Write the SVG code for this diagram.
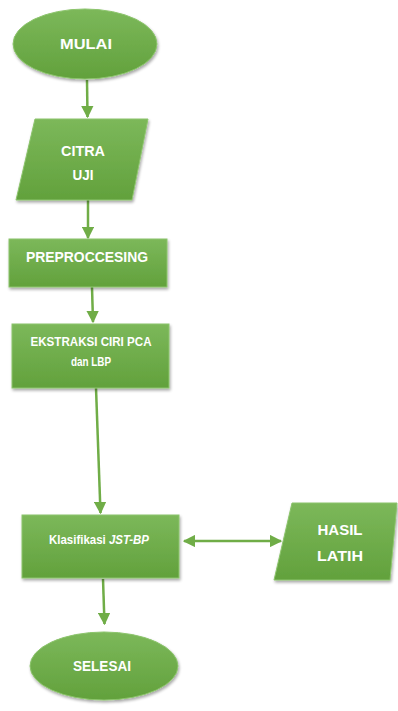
<svg xmlns="http://www.w3.org/2000/svg" width="398" height="711" viewBox="0 0 398 711">
<defs>
<linearGradient id="g" x1="0" y1="0" x2="0" y2="1">
<stop offset="0" stop-color="#7cb85a"/>
<stop offset="1" stop-color="#62a13c"/>
</linearGradient>
<filter id="sh" x="-10%" y="-10%" width="125%" height="130%">
<feGaussianBlur in="SourceAlpha" stdDeviation="1.5"/>
<feOffset dx="1" dy="2" result="b"/>
<feComponentTransfer><feFuncA type="linear" slope="0.35"/></feComponentTransfer>
<feMerge><feMergeNode/><feMergeNode in="SourceGraphic"/></feMerge>
</filter>
<marker id="ah" viewBox="0 0 10 10" refX="9" refY="5" markerWidth="5" markerHeight="5" orient="auto-start-reverse">
<path d="M0,0 L10,5 L0,10 z" fill="#70ad47"/>
</marker>
<style>
.n{fill:url(#g);stroke:#8cc46c;stroke-width:1;filter:url(#sh)}
.t{font-family:"Liberation Sans",Arial,sans-serif;font-weight:bold;fill:#ffffff;text-anchor:middle}
.c{stroke:#70ad47;stroke-width:2.5;fill:none;marker-end:url(#ah)}
</style>
</defs>
<rect width="398" height="711" fill="#ffffff"/>
<g id="connectors">
<line class="c" x1="87" y1="80" x2="87.5" y2="117"/>
<line class="c" x1="88" y1="200" x2="88" y2="238"/>
<line class="c" x1="92" y1="287" x2="93" y2="322"/>
<line class="c" x1="96" y1="388" x2="100.5" y2="513"/>
<line class="c" x1="184" y1="541" x2="281" y2="541" marker-start="url(#ah)"/>
<line class="c" x1="103" y1="579" x2="104.5" y2="624"/>
</g>
<g id="mulai">
<ellipse class="n" cx="85" cy="44" rx="72" ry="35"/>
<text class="t" x="86" y="49" font-size="15" textLength="52" lengthAdjust="spacingAndGlyphs">MULAI</text>
</g>
<g id="citra">
<polygon class="n" points="35,119 148,119 132,200 16,200"/>
<text class="t" x="83" y="156" font-size="14" textLength="44" lengthAdjust="spacingAndGlyphs">CITRA</text>
<text class="t" x="83" y="180" font-size="14" textLength="21" lengthAdjust="spacingAndGlyphs">UJI</text>
</g>
<g id="preprocessing">
<rect class="n" x="9" y="239" width="158" height="48"/>
<text class="t" x="87" y="262" font-size="15" textLength="122" lengthAdjust="spacingAndGlyphs">PREPROCCESING</text>
</g>
<g id="ekstraksi">
<rect class="n" x="12" y="324" width="157" height="64"/>
<text class="t" x="91" y="346" font-size="12" textLength="121" lengthAdjust="spacingAndGlyphs">EKSTRAKSI CIRI PCA</text>
<text class="t" x="91" y="366" font-size="12" textLength="40" lengthAdjust="spacingAndGlyphs">dan LBP</text>
</g>
<g id="klasifikasi">
<rect class="n" x="22" y="515" width="157" height="63"/>
<text class="t" x="99" y="544" font-size="12" textLength="100" lengthAdjust="spacingAndGlyphs">Klasifikasi <tspan font-style="italic">JST-BP</tspan></text>
</g>
<g id="hasil">
<polygon class="n" points="292,503 397,503 390,580 274,580"/>
<text class="t" x="340" y="535" font-size="15" textLength="45" lengthAdjust="spacingAndGlyphs">HASIL</text>
<text class="t" x="340" y="561" font-size="15" textLength="46" lengthAdjust="spacingAndGlyphs">LATIH</text>
</g>
<g id="selesai">
<ellipse class="n" cx="104" cy="666" rx="74" ry="34"/>
<text class="t" x="102" y="671" font-size="15" textLength="58" lengthAdjust="spacingAndGlyphs">SELESAI</text>
</g>
</svg>
